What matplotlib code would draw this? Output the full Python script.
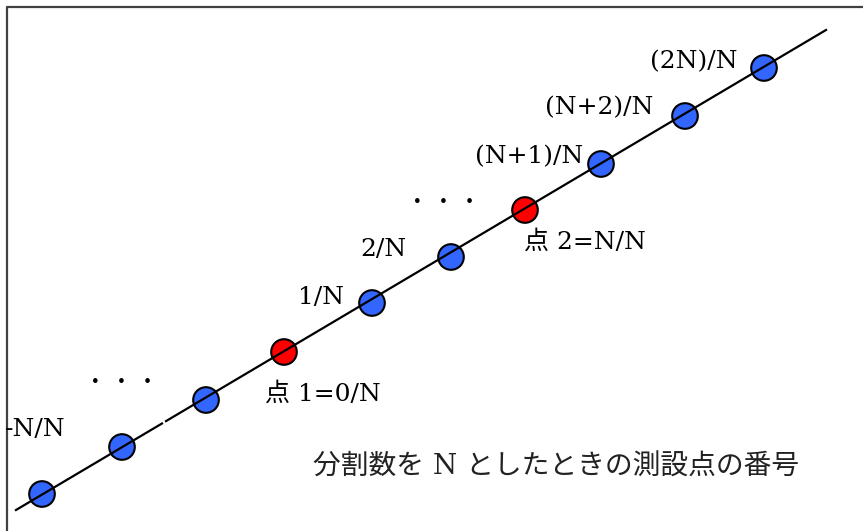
import numpy as np
import matplotlib
matplotlib.use("Agg")
import matplotlib.pyplot as plt

# ---- data (diagram coordinates, y measured upward) ----
point_x = [42, 122, 206, 284, 372, 451, 525, 601, 685, 764]
point_y = [37, 84, 131, 179, 228, 274, 321, 367, 415, 463]
point_kind = ["blue", "blue", "blue", "red", "blue", "blue", "red", "blue", "blue", "blue"]

line_x = [16, 826]
line_y = [21, 501]
gap_x = [162, 166]

labels = ["-N/N", "点 1=0/N", "1/N", "2/N", "点 2=N/N", "(N+1)/N", "(N+2)/N", "(2N)/N"]
label_x = [5, 265, 298, 360, 524, 475, 545, 650]
label_y = [102, 137, 234, 281, 289, 374, 423, 469]

dots_text = "·  ·  ·"
dots_x = [121, 443]
dots_y = [149, 329]

caption = "分割数を N としたときの測設点の番号"
caption_x = 313
caption_y = 64

colors = {"blue": "#3366FF", "red": "#FF0000"}

fig = plt.figure(figsize=(8.63, 5.31), dpi=100)
ax = fig.add_axes([0, 0, 1, 1])
ax.set_xlim(0, 863)
ax.set_ylim(0, 531)
ax.axis("off")

fam = ["DejaVu Serif", "Noto Sans CJK JP"]

# frame (top and left only)
ax.plot([7, 7, 863], [0, 524, 524], color="#404040", lw=1.6, solid_capstyle="butt")

# circles
ax.scatter(point_x, point_y, s=340, c=[colors[k] for k in point_kind],
           edgecolors="black", linewidths=1.5, zorder=2)

# line with tiny gap
lx = np.array([line_x[0], gap_x[0], np.nan, gap_x[1], line_x[1]], dtype=float)
ly = np.interp(np.nan_to_num(lx, nan=0), line_x, line_y)
ly[2] = np.nan
ax.plot(lx, ly, color="black", lw=1.6, zorder=3)

for t, x, y in zip(labels, label_x, label_y):
    ax.text(x, y, t, ha="left", va="center", fontsize=18, family=fam, color="black")

for x, y in zip(dots_x, dots_y):
    ax.text(x, y, dots_text, ha="center", va="center", fontsize=18, family=fam,
            fontweight="bold", color="black")

ax.text(caption_x, caption_y, caption, ha="left", va="center", fontsize=20,
        family=fam, color="#222222")

fig.savefig("out.png", dpi=100)
